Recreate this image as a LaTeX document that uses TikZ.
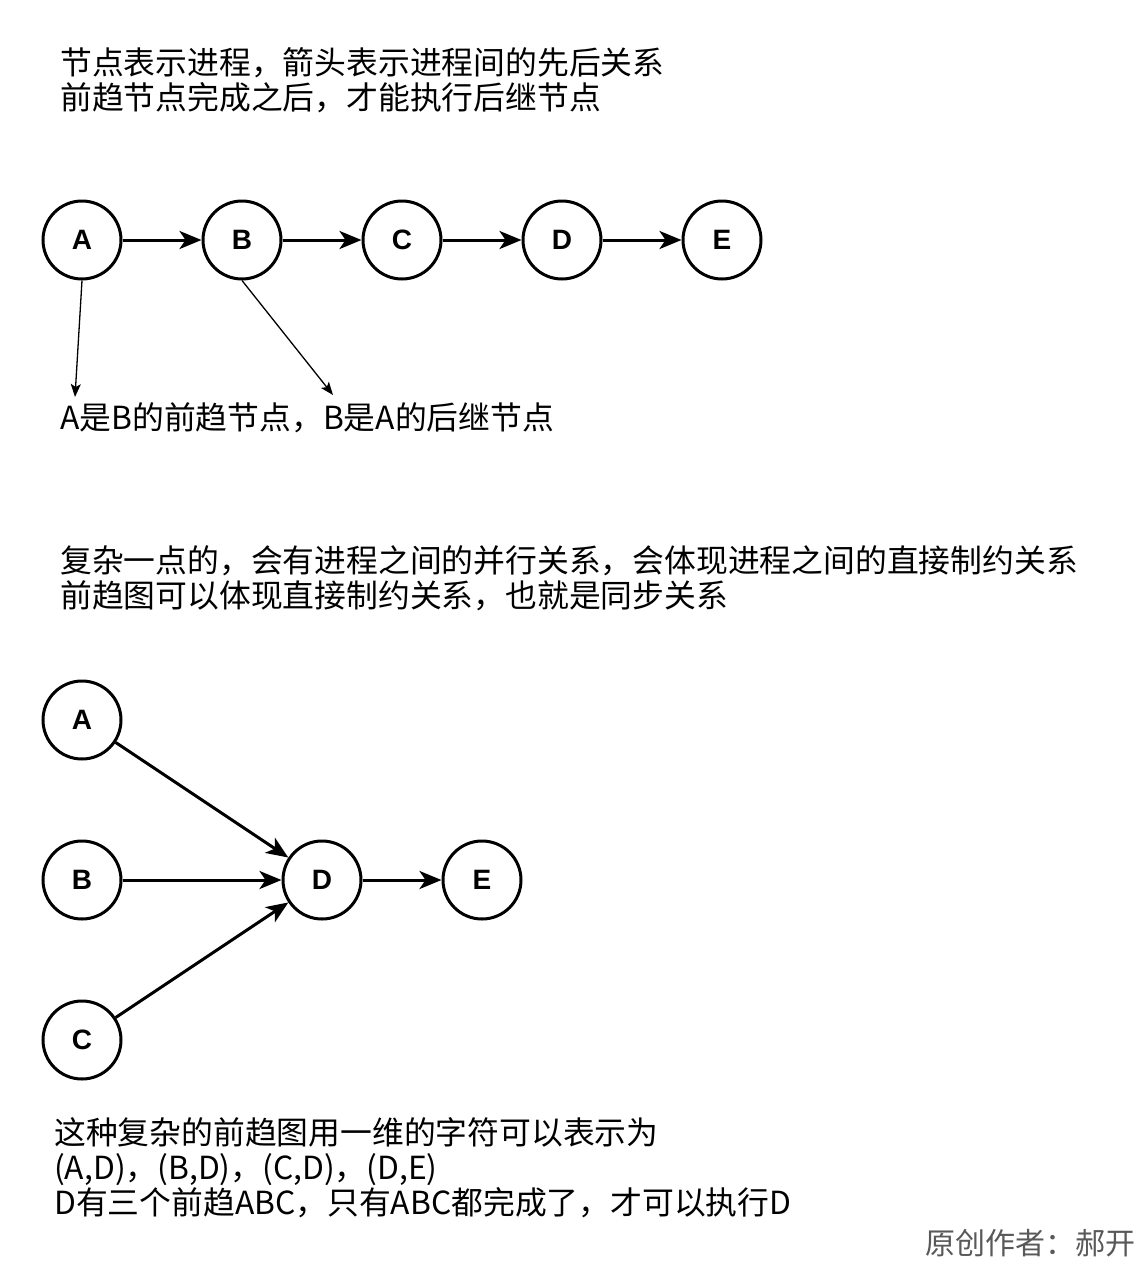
\documentclass[tikz,border=0pt]{standalone}
\usepackage{fontspec}
\setmainfont{Noto Sans CJK SC}
\newfontfamily\lab{Liberation Sans}
\usetikzlibrary{arrows.meta}
\begin{document}
\begin{tikzpicture}[x=1pt,y=-1pt,
  proc/.style={circle,draw,line width=3pt,minimum size=78pt,inner sep=0pt,font=\lab\fontsize{28}{28}\selectfont\bfseries},
  thick arr/.style={line width=3pt,-{Stealth[length=22pt,width=18pt,inset=6pt]}},
  thin arr/.style={line width=1.3pt,-{Stealth[length=13pt,width=10pt,inset=3pt]}},
  txt/.style={anchor=west,align=left,inner sep=0pt,font=\fontsize{31.8}{35}\selectfont}]
\useasboundingbox[fill=white] (0,0) rectangle (1144,1266);
\node[txt] (t1) at (60,80) {节点表示进程，箭头表示进程间的先后关系\\前趋节点完成之后，才能执行后继节点};
\foreach \n/\x in {A/82,B/242,C/402,D/562,E/722}{\node[proc] (u\n) at (\x,240) {\n};}
\draw[thick arr] (uA) -- (uB);
\draw[thick arr] (uB) -- (uC);
\draw[thick arr] (uC) -- (uD);
\draw[thick arr] (uD) -- (uE);
\node[txt] (t2) at (60,418) {A是B的前趋节点，B是A的后继节点};
\coordinate (p1) at (75,397);
\coordinate (p2) at (333,395);
\draw[thin arr] (uA.south) -- (p1);
\draw[thin arr] (uB.south) -- (p2);
\node[txt] (t3) at (60,578) {复杂一点的，会有进程之间的并行关系，会体现进程之间的直接制约关系\\前趋图可以体现直接制约关系，也就是同步关系};
\node[proc] (lA) at (82,720) {A};
\node[proc] (lB) at (82,880) {B};
\node[proc] (lC) at (82,1040) {C};
\node[proc] (lD) at (322,880) {D};
\node[proc] (lE) at (482,880) {E};
\draw[thick arr] (lA) -- (lD);
\draw[thick arr] (lB) -- (lD);
\draw[thick arr] (lC) -- (lD);
\draw[thick arr] (lD) -- (lE);
\node[txt] (t4) at (54,1168) {这种复杂的前趋图用一维的字符可以表示为\\(A,D)，(B,D)，(C,D)，(D,E)\\D有三个前趋ABC，只有ABC都完成了，才可以执行D};
\node[anchor=east,inner sep=0pt,text=black!65,font=\fontsize{30}{30}\selectfont] (au) at (1136,1243) {原创作者：郝开};
\end{tikzpicture}
\end{document}
